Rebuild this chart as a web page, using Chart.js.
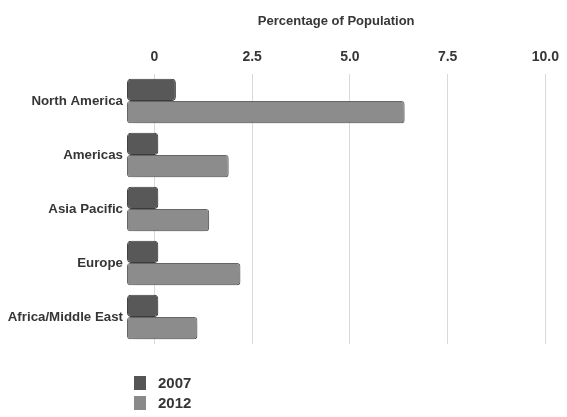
<!DOCTYPE html>
<html>
<head>
<meta charset="utf-8">
<script src="https://cdn.jsdelivr.net/npm/chart.js@4.4.1/dist/chart.umd.min.js"></script>
<style>
    html, body { margin: 0; padding: 0; background: #fff; }
    #wrap { position: relative; width: 567px; height: 417px; }
    #legend {
        position: absolute; left: 134px; top: 373px;
        font: bold 15px "Liberation Sans", Arial, sans-serif;
        color: #363636;
    }
    #legend div { height: 20px; line-height: 20px; display: flex; align-items: center; }
    #legend span.box { width: 12px; height: 14px; margin-right: 12px; display: inline-block; }
</style>
</head>
<body>
<div id="wrap">
    <canvas id="chart" width="567" height="417"></canvas>
    <div id="legend"></div>
</div>
<script>
// 地区与两年的人口占比
const regions = ["North America", "Americas", "Asia Pacific", "Europe", "Africa/Middle East"];
const share2007 = [0.55, 0.1, 0.1, 0.1, 0.1];
const share2012 = [6.4, 1.9, 1.4, 2.2, 1.1];
const tickValues = [0, 2.5, 5, 7.5, 10];

const FONT = "'Liberation Sans', Arial, sans-serif";
const TEXT = "#363636";
const AXIS_MIN = -0.7;  // 柱子从0左侧一点开始

const ctx = document.getElementById("chart").getContext("2d");

// 柱子加一点柔和的阴影
const shadowPlugin = {
    id: "barShadow",
    beforeDatasetsDraw(chart) {
        const c = chart.ctx;
        c.save();
        c.shadowColor = "rgba(0,0,0,0.22)";
        c.shadowBlur = 8;
        c.shadowOffsetX = 3;
        c.shadowOffsetY = 3;
    },
    afterDatasetsDraw(chart) {
        chart.ctx.restore();
    }
};

// 竖向渐变，让柱子看起来有点立体
function barFill(top, mid, bottom) {
    return function (context) {
        const area = context.chart.chartArea;
        const el = context.element;
        if (!area || !el || el.y === undefined) return mid;
        const h = el.height || 20;
        const g = context.chart.ctx.createLinearGradient(0, el.y - h / 2, 0, el.y + h / 2);
        g.addColorStop(0, top);
        g.addColorStop(0.5, mid);
        g.addColorStop(1, bottom);
        return g;
    };
}

const chart = new Chart(ctx, {
    type: "bar",
    data: {
        labels: regions,
        datasets: [
            {
                label: "2007",
                data: share2007,
                base: AXIS_MIN,
                legendColor: "#555",
                backgroundColor: barFill("#6a6a6a", "#585858", "#4c4c4c"),
                borderColor: "#454545",
                borderWidth: 1,
                borderRadius: 4,
                borderSkipped: false
            },
            {
                label: "2012",
                data: share2012,
                base: AXIS_MIN,
                legendColor: "#8a8a8a",
                backgroundColor: barFill("#9c9c9c", "#8c8c8c", "#7c7c7c"),
                borderColor: "#6a6a6a",
                borderWidth: 1,
                borderRadius: 3,
                borderSkipped: false
            }
        ]
    },
    plugins: [shadowPlugin],
    options: {
        indexAxis: "y",
        responsive: false,
        animation: false,
        layout: { padding: { left: 0, right: 0, top: 0, bottom: 73 } },
        datasets: {
            bar: { categoryPercentage: 0.82, barPercentage: 1.0 }
        },
        plugins: {
            legend: { display: false },
            tooltip: { enabled: false }
        },
        scales: {
            x: {
                position: "top",
                min: AXIS_MIN,
                max: 10,
                afterBuildTicks(scale) {
                    scale.ticks = tickValues.map(v => ({ value: v }));
                },
                afterFit(scale) { scale.height = 74; },
                ticks: {
                    padding: 8,
                    color: TEXT,
                    font: { family: FONT, size: 14, weight: "bold" },
                    callback: v => (v === 0 ? "0" : v.toFixed(1))
                },
                grid: { color: "#d9d9d9", lineWidth: 1, drawTicks: false },
                border: { display: false },
                title: {
                    display: true,
                    text: "Percentage of Population",
                    color: TEXT,
                    font: { family: FONT, size: 13, weight: "bold" },
                    padding: { top: 14, bottom: 0 }
                }
            },
            y: {
                afterFit(scale) { scale.width = 127; },
                ticks: {
                    padding: 4,
                    color: TEXT,
                    font: { family: FONT, size: 13.3, weight: "bold" }
                },
                grid: { display: false, drawTicks: false },
                border: { display: false }
            }
        }
    }
});

// 图例：纵向排列在左下
const legendBox = document.getElementById("legend");
chart.data.datasets.forEach(ds => {
    const row = document.createElement("div");
    row.innerHTML = `<span class="box" style="background:${ds.legendColor}"></span>${ds.label}`;
    legendBox.appendChild(row);
});
</script>
</body>
</html>
